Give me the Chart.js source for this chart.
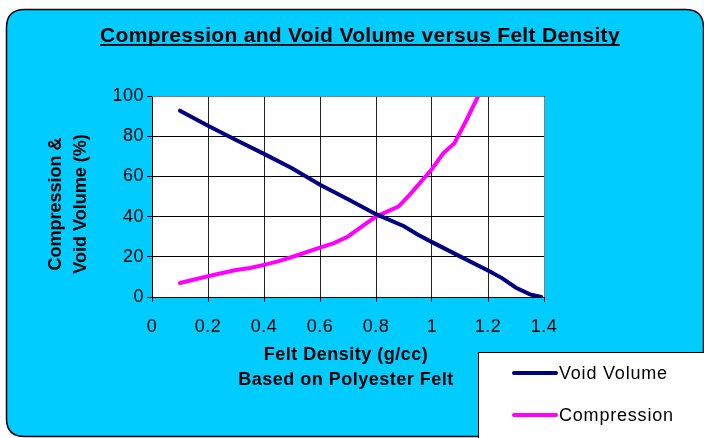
<!DOCTYPE html>
<html>
<head>
<meta charset="utf-8">
<script src="https://cdn.jsdelivr.net/npm/chart.js@4/dist/chart.umd.min.js"></script>
<style>
  body { margin: 0; background: #fff; }
  canvas { display: block; }
</style>
</head>
<body>
<canvas id="grafico" width="704" height="438"></canvas>
<script>
// valores
const voidX = [0.1, 0.2, 0.3, 0.4, 0.5, 0.6, 0.65, 0.7, 0.8, 0.9, 0.95, 1.0, 1.1, 1.2, 1.25, 1.3, 1.35, 1.39];
const voidY = [92.7, 85.2, 78.1, 71.2, 64.1, 55.8, 52.2, 48.6, 41.2, 35.2, 31.0, 27.3, 20.2, 13.2, 9.4, 4.6, 1.3, 0];
const compX = [0.1, 0.2, 0.3, 0.35, 0.4, 0.45, 0.5, 0.6, 0.65, 0.7, 0.75, 0.8, 0.88, 0.92, 1.0, 1.04, 1.08, 1.12, 1.165];
const compY = [7.0, 10.3, 13.4, 14.4, 16.0, 17.7, 19.9, 24.6, 26.8, 30.1, 35.1, 40.0, 45.0, 50.8, 63.7, 71.5, 76.5, 87.2, 100];
const seriesNames = ['Void Volume', 'Compression'];
const seriesColors = ['#000080', '#FF00FF'];
const titulo = 'Compression and Void Volume versus Felt Density';
const tituloX = ['Felt Density (g/cc)', 'Based on Polyester Felt'];
const tituloY = ['Compression &', 'Void Volume (%)'];

const FONT = '"Liberation Sans", Arial, sans-serif';

function puntos(xs, ys) {
  return xs.map((x, i) => ({ x: x, y: ys[i] }));
}

function rectRedondo(ctx, x, y, w, h, r) {
  ctx.beginPath();
  ctx.moveTo(x + r, y);
  ctx.lineTo(x + w - r, y);
  ctx.quadraticCurveTo(x + w, y, x + w, y + r);
  ctx.lineTo(x + w, y + h - r);
  ctx.quadraticCurveTo(x + w, y + h, x + w - r, y + h);
  ctx.lineTo(x + r, y + h);
  ctx.quadraticCurveTo(x, y + h, x, y + h - r);
  ctx.lineTo(x, y + r);
  ctx.quadraticCurveTo(x, y, x + r, y);
  ctx.closePath();
}

const fondo = {
  id: 'fondo',
  beforeDraw(chart) {
    const ctx = chart.ctx;
    const a = chart.chartArea;
    ctx.save();
    ctx.fillStyle = '#fff';
    ctx.fillRect(0, 0, chart.width, chart.height);
    rectRedondo(ctx, 6.5, 9.5, 697, 427, 18);
    ctx.fillStyle = '#00CCFF';
    ctx.fill();
    ctx.lineWidth = 1.5;
    ctx.strokeStyle = '#000';
    ctx.stroke();
    ctx.fillStyle = '#fff';
    ctx.fillRect(a.left, a.top, a.right - a.left, a.bottom - a.top);
    ctx.restore();
    // las etiquetas del original van algo espaciadas
    ctx.letterSpacing = '0.5px';
  },
  afterDraw(chart) {
    const ctx = chart.ctx;
    const a = chart.chartArea;
    ctx.save();
    ctx.fillStyle = '#000';
    ctx.textAlign = 'center';
    ctx.textBaseline = 'alphabetic';
    // titulo subrayado
    ctx.letterSpacing = '0.3px';
    ctx.font = 'bold 21px ' + FONT;
    ctx.fillText(titulo, 360, 42);
    const w = ctx.measureText(titulo).width;
    ctx.fillRect(360 - w / 2, 44, w, 1.8);
    // titulos de ejes
    ctx.letterSpacing = '0.5px';
    ctx.font = 'bold 18px ' + FONT;
    ctx.textBaseline = 'middle';
    ctx.fillText(tituloX[0], 346, 355);
    ctx.fillText(tituloX[1], 346, 380);
    ctx.save();
    ctx.letterSpacing = '0px';
    ctx.translate(56, 204);
    ctx.rotate(-Math.PI / 2);
    ctx.fillText(tituloY[0], 0, 0);
    ctx.fillText(tituloY[1], 0, 25);
    ctx.restore();
    // borde gris arriba y derecha
    ctx.strokeStyle = '#808080';
    ctx.lineWidth = 1;
    ctx.beginPath();
    ctx.moveTo(a.left, a.top + 0.5);
    ctx.lineTo(a.right + 0.5, a.top + 0.5);
    ctx.lineTo(a.right + 0.5, a.bottom);
    ctx.stroke();
    // leyenda
    ctx.fillStyle = '#fff';
    ctx.fillRect(478.5, 352.5, 300, 120);
    ctx.strokeStyle = '#000';
    ctx.strokeRect(478.5, 352.5, 300, 120);
    ctx.textAlign = 'left';
    ctx.font = '18px ' + FONT;
    ctx.letterSpacing = '0.8px';
    chart.data.datasets.forEach((ds, i) => {
      const y = 373 + i * 42;
      ctx.strokeStyle = ds.borderColor;
      ctx.lineWidth = 4;
      ctx.lineCap = 'round';
      ctx.beginPath();
      ctx.moveTo(514, y);
      ctx.lineTo(556, y);
      ctx.stroke();
      ctx.fillStyle = '#000';
      ctx.fillText(ds.label, 559, y + 1);
    });
    ctx.restore();
  }
};

const ctx = document.getElementById('grafico').getContext('2d');
new Chart(ctx, {
  type: 'line',
  data: {
    datasets: [
      { label: seriesNames[0], data: puntos(voidX, voidY), borderColor: seriesColors[0], borderWidth: 4, pointRadius: 0, tension: 0, fill: false, borderCapStyle: 'round' },
      { label: seriesNames[1], data: puntos(compX, compY), borderColor: seriesColors[1], borderWidth: 4, pointRadius: 0, tension: 0, fill: false, borderCapStyle: 'round' }
    ]
  },
  options: {
    responsive: false,
    animation: false,
    layout: { padding: { left: 0, top: 96, right: 160, bottom: 101 } },
    plugins: { legend: { display: false }, tooltip: { enabled: false } },
    scales: {
      x: {
        type: 'linear',
        min: 0,
        max: 1.4,
        afterFit(scale) { scale.height = 40; },
        ticks: {
          stepSize: 0.2,
          color: '#000',
          font: { family: FONT, size: 18 },
          padding: 14,
          maxRotation: 0,
          callback: v => String(+v.toFixed(1))
        },
        grid: { color: '#222', lineWidth: 1, tickLength: 5, tickColor: '#000' },
        border: { display: true, color: '#000', width: 1 }
      },
      y: {
        min: 0,
        max: 100,
        afterFit(scale) { scale.width = 152; },
        ticks: {
          stepSize: 20,
          color: '#000',
          font: { family: FONT, size: 18 },
          padding: 3
        },
        grid: { color: '#000', lineWidth: 1, tickLength: 5, tickColor: '#000' },
        border: { display: true, color: '#000', width: 1 }
      }
    }
  },
  plugins: [fondo]
});
</script>
</body>
</html>
